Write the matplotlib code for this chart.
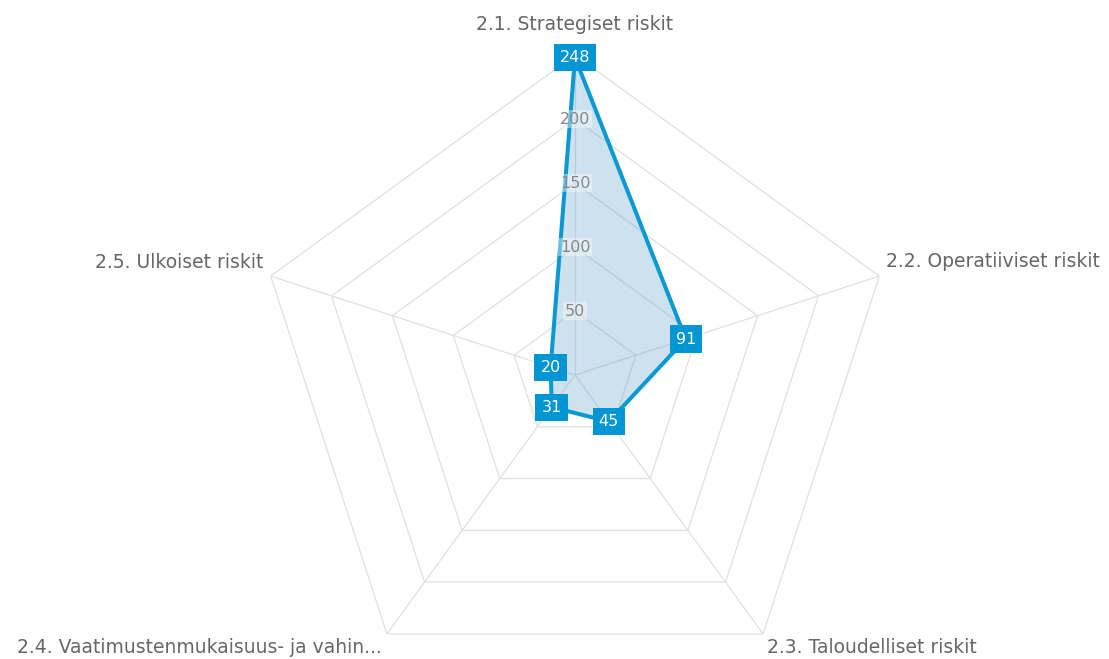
import numpy as np
import matplotlib
matplotlib.use("Agg")
import matplotlib.pyplot as plt

plt.rcParams["font.family"] = ["DejaVu Sans"]

categories = [
    "2.1. Strategiset riskit",
    "2.2. Operatiiviset riskit",
    "2.3. Taloudelliset riskit",
    "2.4. Vaatimustenmukaisuus- ja vahin...",
    "2.5. Ulkoiset riskit",
]
values = [248, 91, 45, 31, 20]
ring_levels = [50, 100, 150, 200, 250]
tick_labels = ["50", "100", "150", "200"]

r_max = 250
line_color = "#0a99d3"
box_color = "#0096d3"
fill_color = "#5a9fc8"
grid_color = "#e0e0e0"
text_color = "#666666"

fig = plt.figure(figsize=(11.09, 6.59), dpi=100)
# polar axes placed so centre lands at (575, 375) px with a 320 px radius
ax = fig.add_axes([255 / 1109, (659 - 375 - 320) / 659, 640 / 1109, 640 / 659],
                  projection="polar")
ax.set_theta_offset(np.pi / 2)
ax.set_theta_direction(-1)
ax.set_ylim(0, r_max)
ax.grid(False)
ax.spines["polar"].set_visible(False)
ax.set_xticks([])
ax.set_yticks([])
ax.patch.set_alpha(0)

n = len(categories)
angles = np.linspace(0, 2 * np.pi, n, endpoint=False)
closed = np.append(angles, angles[0])

# pentagon grid and spokes
for lvl in ring_levels:
    ax.plot(closed, [lvl] * (n + 1), color=grid_color, lw=0.9, zorder=1)
for a in angles:
    ax.plot([a, a], [0, r_max], color=grid_color, lw=0.9, zorder=1)

# series
vals = np.append(values, values[0])
ax.fill(closed, vals, color=fill_color, alpha=0.3, lw=0, zorder=2)
ax.plot(closed, vals, color=line_color, lw=2.9, zorder=3)

# radial tick labels on the vertical spoke
for lvl, lab in zip(ring_levels, tick_labels):
    ax.text(0, lvl, lab, ha="center", va="center", fontsize=11.5, color="#888888",
            zorder=4, bbox=dict(boxstyle="square,pad=0.1", fc="white", ec="none", alpha=0.4))

# value boxes
for a, v in zip(angles, values):
    ax.text(a, v, str(v), ha="center", va="center", fontsize=11.5, color="white",
            zorder=5, bbox=dict(boxstyle="square,pad=0.38", fc=box_color, ec="none"))

# category labels
offsets = [(0, 31, "center"), (7, 15, "left"), (4, -14, "left"),
           (-5, -14, "right"), (-7, 14, "right")]
for a, lab, (dx, dy, ha) in zip(angles, categories, offsets):
    ax.annotate(lab, xy=(a, r_max), xytext=(dx, dy), textcoords="offset pixels",
                ha=ha, va="center", fontsize=13.5, color=text_color,
                annotation_clip=False)

fig.savefig("out.png", dpi=100)
